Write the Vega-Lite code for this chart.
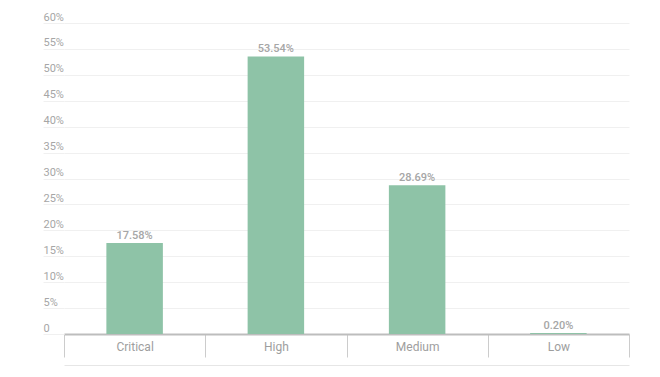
{
  "$schema": "https://vega.github.io/schema/vega-lite/v6.json",
  "width": 565,
  "height": 311,
  "autosize": "none",
  "padding": {"left": 64, "top": 23, "right": 31, "bottom": 43},
  "config": {"view": {"stroke": null}, "font": "Roboto"},
  "data": {"values": [
    {"severity": "Critical", "pct": 17.58},
    {"severity": "High", "pct": 53.54},
    {"severity": "Medium", "pct": 28.69},
    {"severity": "Low", "pct": 0.20}
  ]},
  "encoding": {
    "y": {
      "field": "pct", "type": "quantitative",
      "scale": {"domain": [0, 60], "nice": false},
      "axis": {
        "title": null, "values": [0, 5, 10, 15, 20, 25, 30, 35, 40, 45, 50, 55, 60],
        "domain": false, "labelOverlap": false,
        "grid": true, "gridColor": "#f0f0f0", "gridWidth": 1,
        "ticks": true, "tickSize": 21, "tickColor": "#f0f0f0",
        "labelAlign": "left", "labelPadding": 0, "labelBaseline": "alphabetic", "labelOffset": -3,
        "labelColor": "#a6a6a6", "labelFontSize": 11, "labelFont": "Roboto",
        "labelExpr": "datum.value === 0 ? '0' : datum.value + '%'"
      }
    }
  },
  "layer": [
    {
      "mark": {"type": "bar", "width": {"band": 0.4}, "color": "#8ec3a7"},
      "encoding": {
        "x": {
          "field": "severity", "type": "nominal", "sort": null,
          "scale": {"paddingInner": 0, "paddingOuter": 0},
          "axis": {
            "title": null, "orient": "bottom", "labelAngle": 0,
            "domain": true, "domainColor": "#bdbdbd", "domainWidth": 2,
            "ticks": true, "tickBand": "extent", "tickSize": 23, "tickColor": "#cccccc", "tickWidth": 1,
            "labelColor": "#9e9e9e", "labelFontSize": 12, "labelFont": "Roboto",
            "labelBaseline": "alphabetic", "labelPadding": -7, "grid": false
          }
        }
      }
    },
    {
      "mark": {"type": "text", "dy": -4, "baseline": "alphabetic", "fontSize": 11, "fontWeight": 500, "color": "#a6a6a6", "font": "Roboto",
        "text": {"expr": "format(datum.pct, '.2f') + '%'"}},
      "encoding": {
        "x": {
          "field": "severity", "type": "nominal", "sort": null,
          "axis": {
            "orient": "bottom", "offset": 31, "title": null,
            "domain": true, "domainColor": "#e6e6e6", "domainWidth": 1,
            "labels": false, "ticks": false, "grid": false
          }
        }
      }
    }
  ],
  "resolve": {"axis": {"x": "independent"}}
}
